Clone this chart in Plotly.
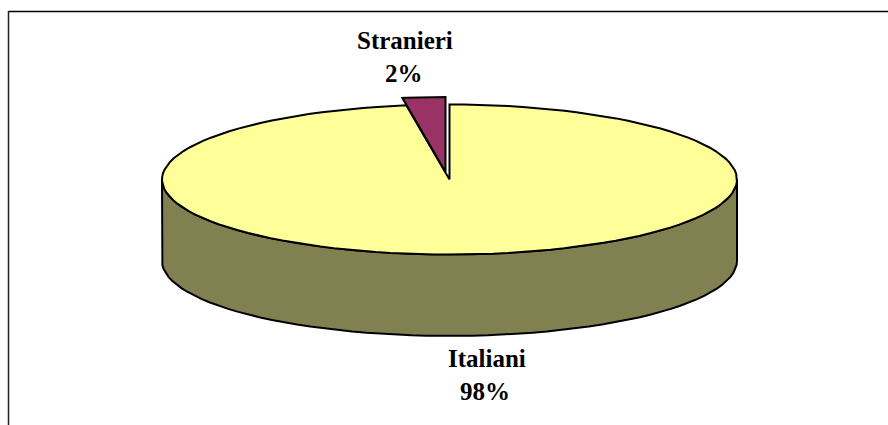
import numpy as np
import plotly.graph_objects as go

categories = ["Italiani", "Stranieri"]
values = [97.6, 2.4]
percent_labels = ["98%", "2%"]

YELLOW = "#FFFF99"
PURPLE = "#993366"
OLIVE = "#808050"
BLACK = "#000000"

CX, CY = 449.5, 179.5
RX, RY = 287.5, 75.0
DEPTH = 81.5
SHIFT = (-4.0, -7.5)

share = values[1] / sum(values)
sweep = 2 * np.pi * share


def arc(a0, a1, n, cx=CX, cy=CY):
    """Clockwise angle measured from 12 o'clock."""
    t = np.linspace(a0, a1, n)
    return cx + RX * np.sin(t), cy - RY * np.cos(t)


fig = go.Figure()


def poly(x, y, fill, width=2):
    fig.add_trace(go.Scatter(x=list(x), y=list(y), mode="lines", fill="toself",
                             fillcolor=fill, line=dict(color=BLACK, width=width),
                             hoverinfo="skip", showlegend=False))


# cylinder side (front half of the large slice)
xs, ys = arc(np.pi / 2, 3 * np.pi / 2, 60)
poly(np.r_[xs, xs[::-1], xs[0]], np.r_[ys, ys[::-1] + DEPTH, ys[0]], OLIVE)

# large slice top
xs, ys = arc(0, 2 * np.pi - sweep, 120)
poly(np.r_[CX, xs, CX], np.r_[CY, ys, CY], YELLOW)

# small exploded slice
sx, sy = CX + SHIFT[0], CY + SHIFT[1]
xs, ys = arc(2 * np.pi - sweep, 2 * np.pi, 12, sx, sy)
poly(np.r_[sx, xs, sx], np.r_[sy, ys, sy], PURPLE)

# labels, positioned over the slices
label_pos = {"Stranieri": (405, 40, 403.5, 73), "Italiani": (487, 358, 485, 391)}
for name, pct in zip(categories, percent_labels):
    xn, yn, xp, yp = label_pos[name]
    for text, px, py in ((name, xn, yn), (pct, xp, yp)):
        fig.add_annotation(x=px, y=py, text=f"<b>{text}</b>", showarrow=False,
                           xanchor="center", yanchor="middle",
                           font=dict(family="Liberation Serif", size=25, color=BLACK))

# chart area frame: top and left edges only
fig.add_shape(type="line", x0=8.5, x1=888, y0=11.5, y1=11.5, line=dict(color=BLACK, width=1.5))
fig.add_shape(type="line", x0=8.5, x1=8.5, y0=11, y1=425, line=dict(color="#222222", width=1.5))

fig.update_xaxes(range=[0, 888], visible=False, fixedrange=True)
fig.update_yaxes(range=[425, 0], visible=False, fixedrange=True)
fig.update_layout(width=888, height=425, margin=dict(l=0, r=0, t=0, b=0),
                  paper_bgcolor="white", plot_bgcolor="white", showlegend=False)
fig.write_html("out.html", config={"displayModeBar": False},
               post_script="document.body.style.margin='0';document.body.style.overflow='hidden';")
